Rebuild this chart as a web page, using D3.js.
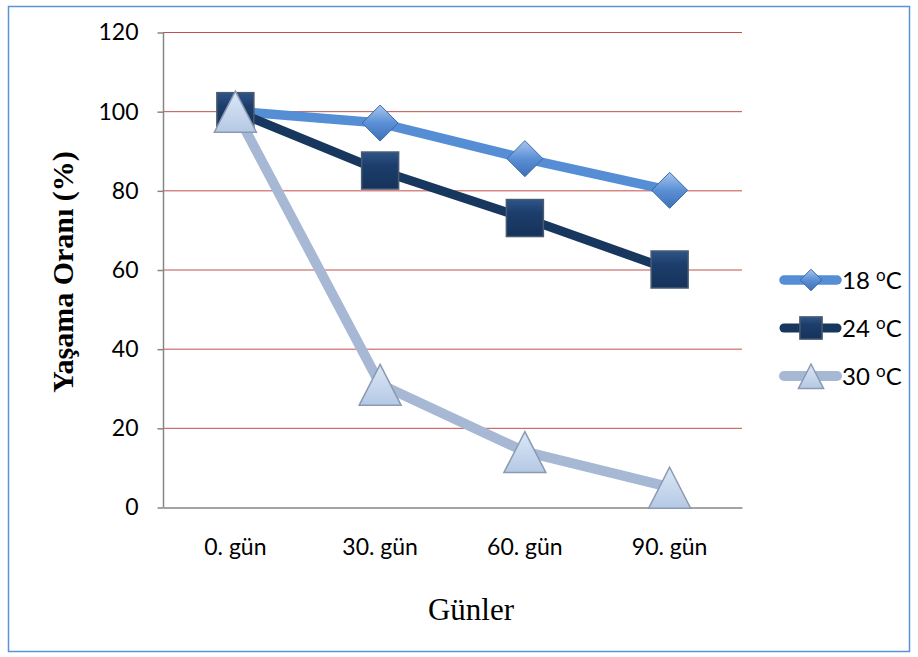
<!DOCTYPE html>
<html><head><meta charset="utf-8">
<script src="https://cdn.jsdelivr.net/npm/d3@7"></script>
<style>body{margin:0;background:#fff}svg{display:block}</style>
</head><body>
<svg id="c" width="918" height="657"></svg>
<script>
const categories = ["0. gün","30. gün","60. gün","90. gün"];
const seriesNames = ["18 ºC","24 ºC","30 ºC"];
const s18 = [100, 97, 88, 80];
const s24 = [100, 85, 73, 60];
const s30 = [100, 31, 14, 5];
const yTicks = [0,20,40,60,80,100,120];

const svg = d3.select("#c");
const defs = svg.append("defs");
function grad(id, stops){
  const g = defs.append("linearGradient").attr("id",id).attr("x1",0).attr("y1",0).attr("x2",0).attr("y2",1);
  stops.forEach(s=>g.append("stop").attr("offset",s[0]).attr("stop-color",s[1]));
}
grad("gDia",[[0,"#a9c6ee"],[0.5,"#5b8fd6"],[1,"#3f70b5"]]);
grad("gSq",[[0,"#2e5588"],[0.35,"#1d3e6c"],[1,"#15325a"]]);
grad("gTri",[[0,"#dbe7f6"],[1,"#b5c9e4"]]);

svg.append("rect").attr("x",8.5).attr("y",6.5).attr("width",901).attr("height",645)
  .attr("fill","#fff").attr("stroke","#5b93d8").attr("stroke-width",1.5);

const x = d3.scaleBand().domain(categories).range([163,742]);
const y = d3.scaleLinear().domain([0,120]).range([507,32]);
const cx = d => x(d) + x.bandwidth()/2;

svg.append("g").selectAll("line").data(yTicks.filter(t=>t>0)).join("line")
  .attr("x1",163).attr("x2",742).attr("y1",d=>y(d)+0.5).attr("y2",d=>y(d)+0.5)
  .attr("stroke","#c0504d").attr("stroke-width",1);

const ya = svg.append("g").attr("transform","translate(163.5,0.5)")
  .call(d3.axisLeft(y).tickValues(yTicks).tickSize(6).tickPadding(19));
ya.select(".domain").attr("stroke","#868686").attr("stroke-width",1.5).attr("d","M0,32V507");
ya.selectAll(".tick line").attr("stroke","#868686").attr("stroke-width",1.5);
ya.selectAll("text").attr("font-family","Lato, 'Open Sans', sans-serif").attr("font-size",23).attr("fill","#000");

const xa = svg.append("g").attr("transform","translate(0,507.5)")
  .call(d3.axisBottom(x).tickSize(0).tickPadding(31));
xa.select(".domain").attr("stroke","#868686").attr("stroke-width",1.5);
xa.selectAll("text").attr("font-family","Lato, 'Open Sans', sans-serif").attr("font-size",23).attr("fill","#000");

svg.append("text").attr("transform","translate(73,272) rotate(-90)").attr("text-anchor","middle")
  .attr("font-family","'Liberation Serif', 'Times New Roman', serif").attr("font-weight","bold").attr("font-size",30)
  .text("Yaşama Oranı (%)");
svg.append("text").attr("x",471).attr("y",620).attr("text-anchor","middle")
  .attr("font-family","'Liberation Serif', 'Times New Roman', serif").attr("font-size",31)
  .text("Günler");

const series = [
  {name:seriesNames[0], vals:s18, color:"#558ed5", w:9.5, marker:"dia"},
  {name:seriesNames[1], vals:s24, color:"#17375e", w:9, marker:"sq"},
  {name:seriesNames[2], vals:s30, color:"#a7b8d5", w:10, marker:"tri"}
];
const line = d3.line().x((d,i)=>cx(categories[i])).y(d=>y(d));

function drawMarker(g, type, px, py, scale=1){
  if(type==="dia"){
    const r=18*scale;
    g.append("path").attr("d",`M${px},${py-r}L${px+r},${py}L${px},${py+r}L${px-r},${py}Z`)
      .attr("fill","url(#gDia)").attr("stroke","#3a69a8").attr("stroke-width",1);
  } else if(type==="sq"){
    const r=18.5*scale;
    g.append("rect").attr("x",px-r).attr("y",py-r).attr("width",2*r).attr("height",2*r)
      .attr("fill","url(#gSq)").attr("stroke","#4a5a70").attr("stroke-width",1.5);
  } else {
    const r=21*scale;
    g.append("path").attr("d",`M${px},${py-r*0.95}L${px+r},${py+r}L${px-r},${py+r}Z`)
      .attr("fill","url(#gTri)").attr("stroke","#8a9ab3").attr("stroke-width",1.5);
  }
}

series.forEach(s=>{
  svg.append("path").datum(s.vals).attr("d",line).attr("fill","none")
    .attr("stroke",s.color).attr("stroke-width",s.w).attr("stroke-linejoin","round").attr("stroke-linecap","round");
});
series.forEach(s=>{
  const g = svg.append("g");
  s.vals.forEach((v,i)=>drawMarker(g, s.marker, cx(categories[i]), y(v)));
});

const lg = svg.append("g");
series.forEach((s,i)=>{
  const ly = 280 + i*48;
  lg.append("line").attr("x1",784).attr("x2",837).attr("y1",ly).attr("y2",ly)
    .attr("stroke",s.color).attr("stroke-width",s.w).attr("stroke-linecap","round");
  drawMarker(lg, s.marker, 811, ly, 0.6);
  const t = lg.append("text").attr("x",842).attr("y",ly+9)
    .attr("font-family","Lato, 'Open Sans', sans-serif").attr("font-size",24).attr("fill","#000");
  const parts = s.name.split("º");
  t.append("tspan").text(parts[0]);
  t.append("tspan").attr("font-size",17).attr("dy",-8).text("o");
  t.append("tspan").attr("dy",8).text(parts[1]);
});
</script>
</body></html>
